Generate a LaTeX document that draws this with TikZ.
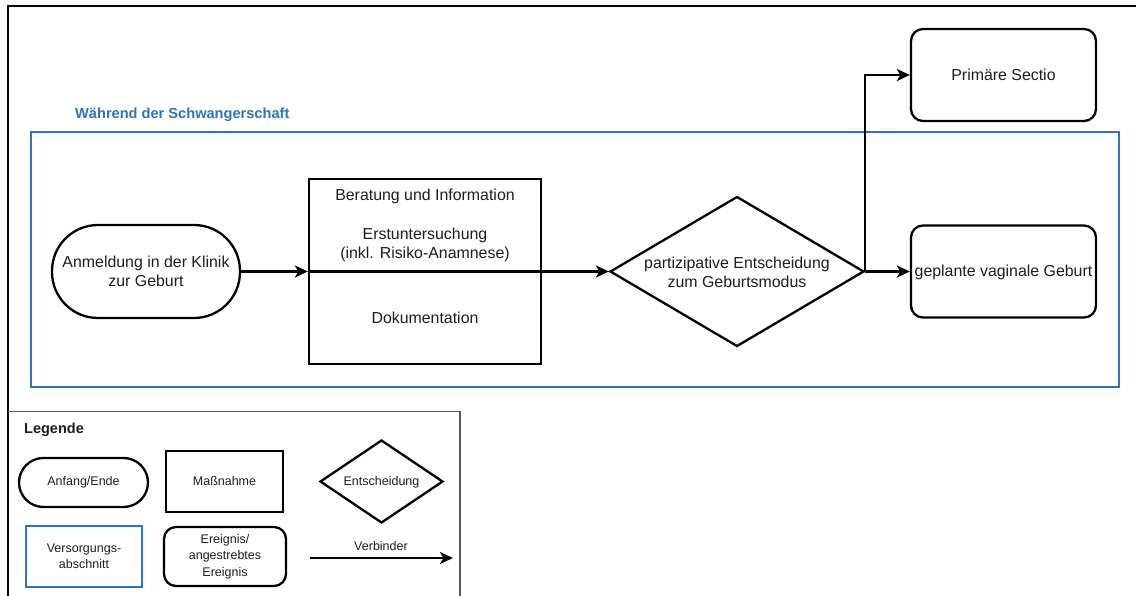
\documentclass[tikz,border=0pt]{standalone}
\usepackage{fontspec}
\setmainfont{Liberation Sans}
\usetikzlibrary{shapes.geometric,arrows.meta}
\definecolor{secblue}{RGB}{46,117,182}
\definecolor{txt}{RGB}{30,30,30}
\definecolor{leggray}{RGB}{90,90,90}
\begin{document}
\begin{tikzpicture}[x=1pt,y=-1pt,
  every node/.style={text=txt,inner sep=0pt,align=center},
  mainfont/.style={font=\fontsize{15.9}{19}\selectfont},
  legfont/.style={font=\fontsize{12.5}{16.5}\selectfont},
  shp/.style={draw=black,line width=2.3pt},
  stad/.style={shp,rectangle,rounded corners=#1},
  actbox/.style={shp,rectangle},
  evbox/.style={shp,rectangle,rounded corners=12pt},
  dec/.style={shp,diamond},
  secbox/.style={draw=secblue,line width=2.3pt,rectangle},
  arr/.style={line width=2.3pt,-{Stealth[length=13pt,width=12pt,inset=3.5pt]}}
]
\useasboundingbox (0,0) rectangle (1136,596);
\fill[white] (0,0) rectangle (1136,596);
% outer frame
\draw[line width=1.2pt] (8,596) -- (8,6) -- (1136,6);
% section
\node[secbox,minimum width=1088pt,minimum height=255pt] (sect) at (575,259.5) {};
\node[anchor=west,text=secblue,font=\bfseries\fontsize{14.6}{17}\selectfont] (secttitle) at (75,115) {Während der Schwangerschaft};
% main nodes
\node[stad=46pt,mainfont,minimum width=188pt,minimum height=93pt,fill=white] (start) at (146,271.5) {Anmeldung in der Klinik\\zur Geburt};
\node[actbox,minimum width=232pt,minimum height=185pt] (act) at (425,271.5) {};
\node[mainfont] (t1) at (425,196) {Beratung und Information};
\node[mainfont] (t2) at (425,245) {Erstuntersuchung\\(inkl. Risiko-Anamnese)};
\node[mainfont] (t3) at (425,318) {Dokumentation};
\node[dec,minimum width=254pt,minimum height=150pt] (dec) at (737,271.5) {};
\node[mainfont] (dect) at (737,272.5) {partizipative Entscheidung\\zum Geburtsmodus};
\node[evbox,mainfont,minimum width=185pt,minimum height=92pt] (prim) at (1003.5,75) {Primäre Sectio};
\node[evbox,minimum width=185pt,minimum height=92pt] (vag) at (1003.5,271.5) {};
\node[mainfont] (vagt) at (1003.5,272) {geplante vaginale Geburt};
% connectors
\draw[arr] (start.east) -- (act.west);
\draw[arr] (act.west) -- (dec.west);
\draw[arr] (dec.east) -- (vag.west);
\draw[arr] (dec.east) |- (prim.west);
% legend
\draw[draw=leggray,line width=1.2pt] (8,411.5) -- (460,411.5) -- (460,596);
\node[anchor=west,font=\bfseries\fontsize{14.5}{17}\selectfont] (legt) at (24,430) {Legende};
\node[stad=24.5pt,legfont,minimum width=129pt,minimum height=49pt] (lstad) at (83.5,482.5) {Anfang/Ende};
\node[actbox,legfont,minimum width=117pt,minimum height=61pt] (lact) at (224.5,481.5) {Maßnahme};
\node[dec,minimum width=123pt,minimum height=83pt] (ldec) at (381.5,481.5) {};
\node[legfont] (ldect) at (381.5,482) {Entscheidung};
\node[secbox,legfont,minimum width=116pt,minimum height=61pt] (lsec) at (84,556.5) {Versorgungs-\\abschnitt};
\node[evbox,legfont,minimum width=122pt,minimum height=59pt] (lev) at (225,556.5) {Ereignis/\\angestrebtes\\Ereignis};
\coordinate (la) at (310,558);
\coordinate (lb) at (453,558);
\draw[arr] (la) -- (lb);
\node[legfont] (lconn) at (381,546) {Verbinder};
\end{tikzpicture}
\end{document}
